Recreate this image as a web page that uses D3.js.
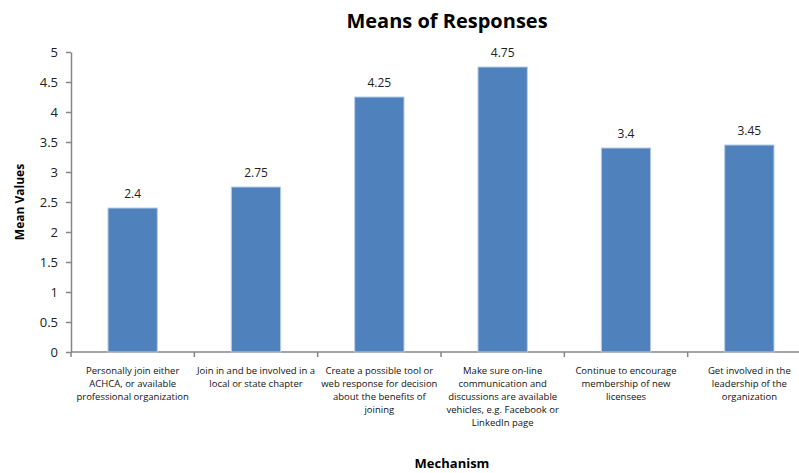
<!DOCTYPE html>
<html>
<head>
<meta charset="utf-8">
<script src="https://cdn.jsdelivr.net/npm/d3@7"></script>
<style>
  body { margin: 0; background: #fff; }
  text { font-family: "Open Sans", "Liberation Sans", sans-serif; fill: #222; }
</style>
</head>
<body>
<div id="chart"></div>
<script>
var categories = [
  ["Personally join either", "ACHCA, or available", "professional organization"],
  ["Join in and be involved in a", "local or state chapter"],
  ["Create a possible tool or", "web response for decision", "about the benefits of", "joining"],
  ["Make sure on-line", "communication and", "discussions are available", "vehicles, e.g. Facebook  or", "LinkedIn page"],
  ["Continue to encourage", "membership of new", "licensees"],
  ["Get involved in the", "leadership of the", "organization"]
];
var means = [2.4, 2.75, 4.25, 4.75, 3.4, 3.45];
var yTicks = [0, 0.5, 1, 1.5, 2, 2.5, 3, 3.5, 4, 4.5, 5];

var width = 799, height = 473;

var svg = d3.select("#chart").append("svg")
    .attr("width", width)
    .attr("height", height);

var x = d3.scaleBand()
    .domain(d3.range(means.length))
    .range([71, 811])
    .paddingInner(0.6)
    .paddingOuter(0.3);

var y = d3.scaleLinear()
    .domain([0, 5])
    .range([352, 52]);

// title
svg.append("text")
    .attr("x", 447)
    .attr("y", 28)
    .attr("text-anchor", "middle")
    .style("font-size", "20px")
    .style("font-weight", "bold")
    .style("fill", "#000")
    .text("Means of Responses");

// y axis
var yAxis = svg.append("g")
    .attr("transform", "translate(71,0)")
    .call(d3.axisLeft(y).tickValues(yTicks).tickSize(5).tickSizeOuter(0).tickFormat(d3.format("")));

yAxis.selectAll("text")
    .attr("x", -13)
    .style("font-size", "13px")
    .style("fill", "#222");

// x axis (ticks at band boundaries)
var xAxis = svg.append("g")
    .attr("transform", "translate(0,352)");

xAxis.append("line")
    .attr("x1", 71).attr("x2", 811)
    .attr("y1", 0).attr("y2", 0);

xAxis.selectAll(".tick")
    .data(d3.range(means.length + 1))
  .enter().append("line")
    .attr("class", "tick")
    .attr("x1", function(d) { return 71 + d * x.step(); })
    .attr("x2", function(d) { return 71 + d * x.step(); })
    .attr("y1", 0).attr("y2", 5);

svg.selectAll(".domain, .tick line, g line")
    .style("stroke", "#868686")
    .style("stroke-width", "1.5px");

// bars
svg.selectAll(".bar")
    .data(means)
  .enter().append("rect")
    .attr("class", "bar")
    .attr("x", function(d, i) { return x(i); })
    .attr("y", function(d) { return y(d); })
    .attr("width", x.bandwidth())
    .attr("height", function(d) { return y(0) - y(d); })
    .style("fill", "#4F81BD")
    .style("stroke", "#B9CDE5")
    .style("stroke-width", "1px");

// value labels
svg.selectAll(".val")
    .data(means)
  .enter().append("text")
    .attr("class", "val")
    .attr("x", function(d, i) { return x(i) + x.bandwidth() / 2; })
    .attr("y", function(d) { return y(d) - 10; })
    .attr("text-anchor", "middle")
    .style("font-size", "12px")
    .text(function(d) { return d; });

// category labels
var cat = svg.selectAll(".cat")
    .data(categories)
  .enter().append("text")
    .attr("class", "cat")
    .attr("text-anchor", "middle")
    .style("font-size", "9.5px")
    .style("fill", "#111")
    .attr("transform", function(d, i) { return "translate(" + (x(i) + x.bandwidth() / 2) + ",374)"; });

cat.selectAll("tspan")
    .data(function(d) { return d; })
  .enter().append("tspan")
    .attr("x", 0)
    .attr("y", function(d, i) { return i * 13; })
    .text(function(d) { return d; });

// axis titles
svg.append("text")
    .attr("transform", "translate(24,202) rotate(-90)")
    .attr("text-anchor", "middle")
    .style("font-size", "12px")
    .style("font-weight", "bold")
    .style("fill", "#000")
    .text("Mean Values");

svg.append("text")
    .attr("x", 452)
    .attr("y", 468)
    .attr("text-anchor", "middle")
    .style("font-size", "13px")
    .style("font-weight", "bold")
    .style("fill", "#000")
    .text("Mechanism");
</script>
</body>
</html>
